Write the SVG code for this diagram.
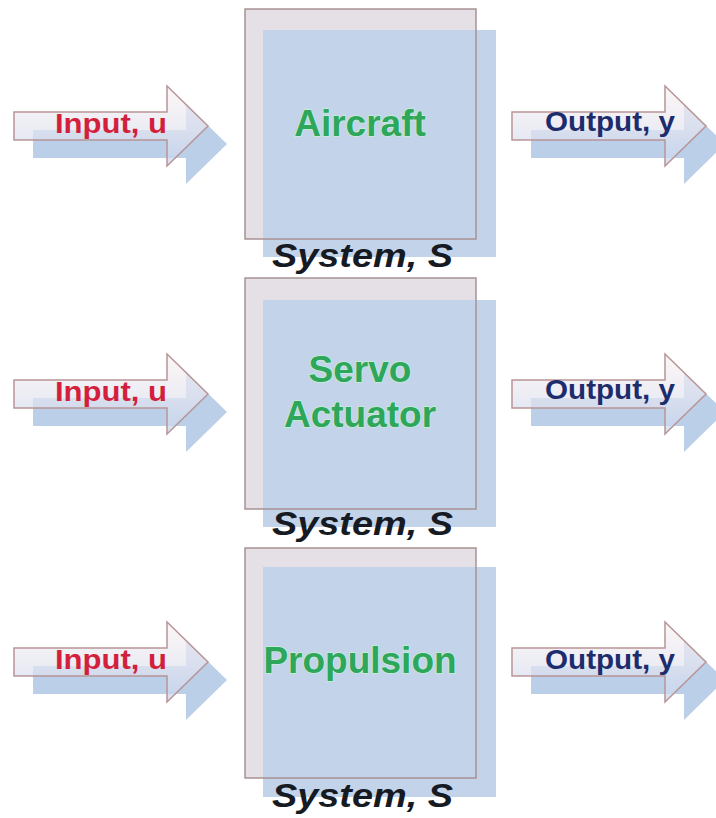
<svg xmlns="http://www.w3.org/2000/svg" xmlns:xlink="http://www.w3.org/1999/xlink" width="716" height="818" viewBox="0 0 716 818">
<style>
.shadow{fill:#bccfe9}
.arrow{fill:url(#ag);stroke:#b89596;stroke-width:1.5;fill-opacity:0.72}
.frameFill{fill:#e5e0e6}
.boxShadow{fill:#c3d3ea}
.frameLine{fill:none;stroke:#a89294;stroke-width:1.5}
.lbl{font-family:"Liberation Sans",Arial,sans-serif;font-weight:bold;font-size:37px;fill:#2ea65c;text-anchor:middle;stroke:#c8eed8;stroke-width:1.5;paint-order:stroke}
.sys{font-family:"Liberation Sans",Arial,sans-serif;font-weight:bold;font-style:italic;font-size:33px;fill:#161a22}
.in{font-family:"Liberation Sans",Arial,sans-serif;font-weight:bold;font-size:28px;fill:#d41f3c}
.out{font-family:"Liberation Sans",Arial,sans-serif;font-weight:bold;font-size:28px;fill:#1d2c6c}
</style>
<defs>
<linearGradient id="ag" x1="0" y1="0" x2="0" y2="1">
<stop offset="0" stop-color="#fbf3f2"/>
<stop offset="0.5" stop-color="#e6e6f0"/>
<stop offset="1" stop-color="#c6d5ee"/>
</linearGradient>
<path id="arr" d="M0,-14 H153 V-40 L194,0 L153,40 V14 H0 Z"/>
</defs>
<rect width="716" height="818" fill="#ffffff"/>

<g id="connectors">
<g id="in1">
<use xlink:href="#arr" class="shadow" transform="translate(33,144)"/>
<use xlink:href="#arr" class="arrow" transform="translate(14,126)"/>
<text class="in" x="55" y="133" textLength="112" lengthAdjust="spacingAndGlyphs">Input, u</text>
</g>
<g id="out1">
<use xlink:href="#arr" class="shadow" transform="translate(531,144)"/>
<use xlink:href="#arr" class="arrow" transform="translate(512,126)"/>
<text class="out" x="545" y="131" textLength="130" lengthAdjust="spacingAndGlyphs">Output, y</text>
</g>
<g id="in2">
<use xlink:href="#arr" class="shadow" transform="translate(33,412)"/>
<use xlink:href="#arr" class="arrow" transform="translate(14,394)"/>
<text class="in" x="55" y="401" textLength="112" lengthAdjust="spacingAndGlyphs">Input, u</text>
</g>
<g id="out2">
<use xlink:href="#arr" class="shadow" transform="translate(531,412)"/>
<use xlink:href="#arr" class="arrow" transform="translate(512,394)"/>
<text class="out" x="545" y="399" textLength="130" lengthAdjust="spacingAndGlyphs">Output, y</text>
</g>
<g id="in3">
<use xlink:href="#arr" class="shadow" transform="translate(33,680)"/>
<use xlink:href="#arr" class="arrow" transform="translate(14,662)"/>
<text class="in" x="55" y="669" textLength="112" lengthAdjust="spacingAndGlyphs">Input, u</text>
</g>
<g id="out3">
<use xlink:href="#arr" class="shadow" transform="translate(531,680)"/>
<use xlink:href="#arr" class="arrow" transform="translate(512,662)"/>
<text class="out" x="545" y="669" textLength="130" lengthAdjust="spacingAndGlyphs">Output, y</text>
</g>
</g>

<g id="aircraft">
<rect class="frameFill" x="245" y="9" width="231" height="230"/>
<rect class="boxShadow" x="263" y="30" width="233" height="227"/>
<rect class="frameLine" x="245" y="9" width="231" height="230"/>
<text class="lbl" x="360" y="136">Aircraft</text>
<text class="sys" x="272" y="267" textLength="181" lengthAdjust="spacingAndGlyphs">System, S</text>
</g>

<g id="servo">
<rect class="frameFill" x="245" y="278" width="231" height="231"/>
<rect class="boxShadow" x="263" y="300" width="233" height="227"/>
<rect class="frameLine" x="245" y="278" width="231" height="231"/>
<text class="lbl" x="360" y="382">Servo</text>
<text class="lbl" x="360" y="427">Actuator</text>
<text class="sys" x="272" y="535" textLength="181" lengthAdjust="spacingAndGlyphs">System, S</text>
</g>

<g id="propulsion">
<rect class="frameFill" x="245" y="548" width="231" height="230"/>
<rect class="boxShadow" x="263" y="567" width="233" height="230"/>
<rect class="frameLine" x="245" y="548" width="231" height="230"/>
<text class="lbl" x="360" y="673">Propulsion</text>
<text class="sys" x="272" y="807" textLength="181" lengthAdjust="spacingAndGlyphs">System, S</text>
</g>
</svg>
